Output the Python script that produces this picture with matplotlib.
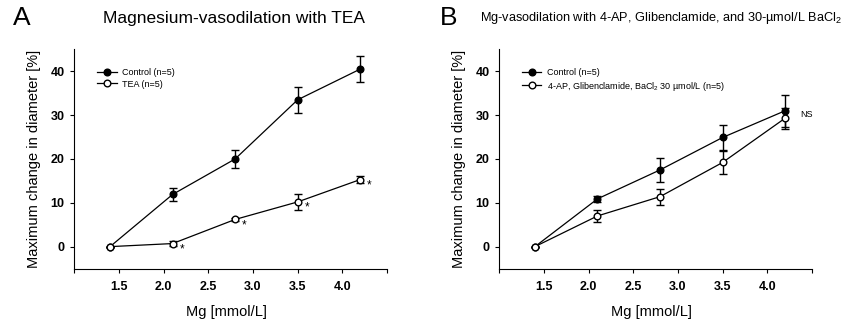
import matplotlib
matplotlib.use("Agg")
import matplotlib.pyplot as plt
from matplotlib.lines import Line2D

plt.rcParams["font.family"] = ["Liberation Sans", "DejaVu Sans"]
plt.rcParams["mathtext.fontset"] = "custom"
plt.rcParams["mathtext.rm"] = "Liberation Sans"
plt.rcParams["mathtext.it"] = "Liberation Sans:italic"

# Mg-Konzentrationen
mg = [1.4, 2.1, 2.8, 3.5, 4.2]

# Panel A
a_control = [0, 11.9, 20.0, 33.5, 40.5]
a_control_err = [0, 1.45, 2.1, 2.9, 3.05]
a_tea = [0, 0.7, 6.2, 10.2, 15.3]
a_tea_err = [0, 0.6, 0.35, 1.75, 0.75]
a_star_x = [2.1, 2.8, 3.5, 4.2]
a_star_y = [0.7, 6.2, 10.2, 15.3]

# Panel B
b_control = [0, 10.9, 17.5, 24.9, 31.0]
b_control_err = [0, 0.7, 2.65, 2.9, 3.6]
b_block = [0, 7.0, 11.4, 19.2, 29.3]
b_block_err = [0, 1.35, 1.8, 2.6, 2.4]

xticks = [1.0, 1.5, 2.0, 2.5, 3.0, 3.5, 4.0, 4.5]
xticklabels = ["", "1.5", "2.0", "2.5", "3.0", "3.5", "4.0", ""]
yticks = [0, 10, 20, 30, 40]


def draw_panel(ax, y1, e1, y2, e2, lab1, lab2):
    ax.errorbar(mg, y1, yerr=e1, color="black", lw=0.9, elinewidth=1.0,
                capsize=2.8, capthick=1.0, marker="o", ms=4.8,
                mfc="black", mec="black", zorder=3)
    ax.errorbar(mg, y2, yerr=e2, color="black", lw=0.9, elinewidth=1.0,
                capsize=2.8, capthick=1.0, marker="o", ms=4.8,
                mfc="white", mec="black", mew=1.0, zorder=4)
    ax.set_xlim(1.0, 4.5)
    ax.set_ylim(-5, 45)
    ax.set_xticks(xticks)
    ax.set_xticklabels(xticklabels)
    ax.set_yticks(yticks)
    for s in ["top", "right"]:
        ax.spines[s].set_visible(False)
    ax.tick_params(direction="out", length=3, width=0.8, labelsize=9)
    ax.tick_params(axis="x", pad=6)
    ax.tick_params(axis="y", pad=4)
    for t in ax.get_xticklabels() + ax.get_yticklabels():
        t.set_fontweight("bold")
    ax.set_xlabel("Mg [mmol/L]", fontsize=10.5)
    ax.set_ylabel("Maximum change in diameter [%]", fontsize=10.5)
    ax.xaxis.set_label_coords(0.488, -0.166)
    ax.yaxis.set_label_coords(-0.106, 0.5)
    handles = [
        Line2D([], [], color="black", lw=0.9, marker="o", ms=4.8,
               mfc="black", mec="black"),
        Line2D([], [], color="black", lw=0.9, marker="o", ms=4.8,
               mfc="white", mec="black", mew=1.0),
    ]
    ax.legend(handles, [lab1, lab2], loc="upper left",
              bbox_to_anchor=(0.06, 0.93), frameon=False,
              fontsize=6.5, handlelength=2.2, handletextpad=0.6,
              labelspacing=0.25, borderaxespad=0)


fig = plt.figure(figsize=(8.49, 3.22), dpi=100)
ax1 = fig.add_axes([0.0875, 0.166, 0.3683, 0.6806])
ax2 = fig.add_axes([0.588, 0.166, 0.3683, 0.6806])

draw_panel(ax1, a_control, a_control_err, a_tea, a_tea_err,
           "Control (n=5)", "TEA (n=5)")
for x, y in zip(a_star_x, a_star_y):
    ax1.annotate("*", (x, y), xytext=(6.5, -4), textcoords="offset points",
                 ha="center", va="center", fontsize=8.5)

draw_panel(ax2, b_control, b_control_err, b_block, b_block_err,
           "Control (n=5)",
           r"4-AP, Glibenclamide, BaCl$_2$ 30 µmol/L (n=5)")
ax2.annotate("NS", (4.2, 30.2), xytext=(11, 0), textcoords="offset points",
             ha="left", va="center", fontsize=6.5)

fig.text(0.015, 0.945, "A", fontsize=19, va="center", ha="left")
fig.text(0.518, 0.945, "B", fontsize=19, va="center", ha="left")
fig.text(0.276, 0.944, "Magnesium-vasodilation with TEA", fontsize=12.5,
         ha="center", va="center")
fig.text(0.778, 0.944,
         r"Mg-vasodilation with 4-AP, Glibenclamide, and 30-µmol/L BaCl$_2$",
         fontsize=9.2, ha="center", va="center")

fig.savefig("out.png", dpi=100)
